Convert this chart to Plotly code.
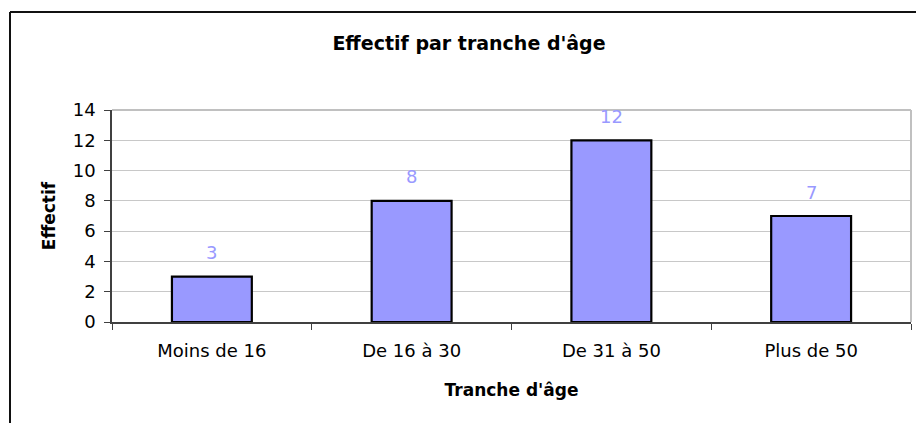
import plotly.graph_objects as go

categories = ["Moins de 16", "De 16 à 30", "De 31 à 50", "Plus de 50"]
effectif = [3, 8, 12, 7]
y_ticks = [0, 2, 4, 6, 8, 10, 12, 14]

W, H = 919, 423
ML, MR, MT, MB = 112, 8, 110, 101
PW = W - ML - MR
PH = H - MT - MB

def px_x(x):
    return (x - ML) / PW

def px_y(y):
    return (H - MB - y) / PH

FONT = "DejaVu Sans"
BAR = "#9999ff"

fig = go.Figure()
fig.add_trace(go.Bar(
    x=categories, y=effectif, width=0.4,
    marker=dict(color=BAR, line=dict(color="#000000", width=2.2)),
    hoverinfo="skip",
))

for c, v in zip(categories, effectif):
    fig.add_annotation(x=c, y=v, text=str(v), showarrow=False,
                       yanchor="middle", yshift=24,
                       font=dict(family=FONT, size=18, color=BAR))

# outer frame (left and top) and plot-area border (top and right)
fig.add_shape(type="line", xref="paper", yref="paper",
              x0=px_x(10), x1=px_x(10), y0=px_y(12), y1=px_y(430),
              line=dict(color="#111111", width=2))
fig.add_shape(type="line", xref="paper", yref="paper",
              x0=px_x(10), x1=px_x(916), y0=px_y(12), y1=px_y(12),
              line=dict(color="#111111", width=2))
fig.add_shape(type="line", xref="paper", yref="paper",
              x0=0, x1=1, y0=1, y1=1,
              line=dict(color="#c0c0c0", width=2))
fig.add_shape(type="line", xref="paper", yref="paper",
              x0=1, x1=1, y0=0, y1=1,
              line=dict(color="#c0c0c0", width=2))

fig.update_layout(
    width=W, height=H,
    margin=dict(l=ML, r=MR, t=MT, b=MB, autoexpand=False),
    paper_bgcolor="white", plot_bgcolor="white",
    showlegend=False, bargap=0.6,
    font=dict(family=FONT, color="#000000"),
    title=dict(text="<b>Effectif par tranche d'âge</b>",
               x=469 / W, xref="container", xanchor="center",
               y=1 - 43 / H, yref="container", yanchor="middle",
               font=dict(family=FONT, size=19, color="#000000")),
    xaxis=dict(
        type="category", showline=True, linecolor="#404040", linewidth=1.5,
        ticks="outside", tickson="boundaries", ticklen=6, tickcolor="#404040",
        tickwidth=1, showgrid=False, ticklabelstandoff=12,
        tickfont=dict(family=FONT, size=18, color="#000000"),
        title=dict(text="<b>Tranche d'âge</b>", standoff=24,
                   font=dict(family=FONT, size=17, color="#000000")),
        automargin=False,
    ),
    yaxis=dict(
        range=[0, 14], tickvals=y_ticks, showline=True, linecolor="#404040",
        linewidth=1.5, ticks="outside", ticklen=6, tickcolor="#404040",
        tickwidth=1, showgrid=True, gridcolor="#c8c8c8", gridwidth=1,
        zeroline=False, ticklabelstandoff=5,
        tickfont=dict(family=FONT, size=18, color="#000000"),
        title=dict(text="<b>Effectif</b>", standoff=13,
                   font=dict(family=FONT, size=17, color="#000000")),
        automargin=False,
    ),
)

fig.write_html("out.html", config={"displayModeBar": False},
               post_script="document.body.style.margin='0';")
